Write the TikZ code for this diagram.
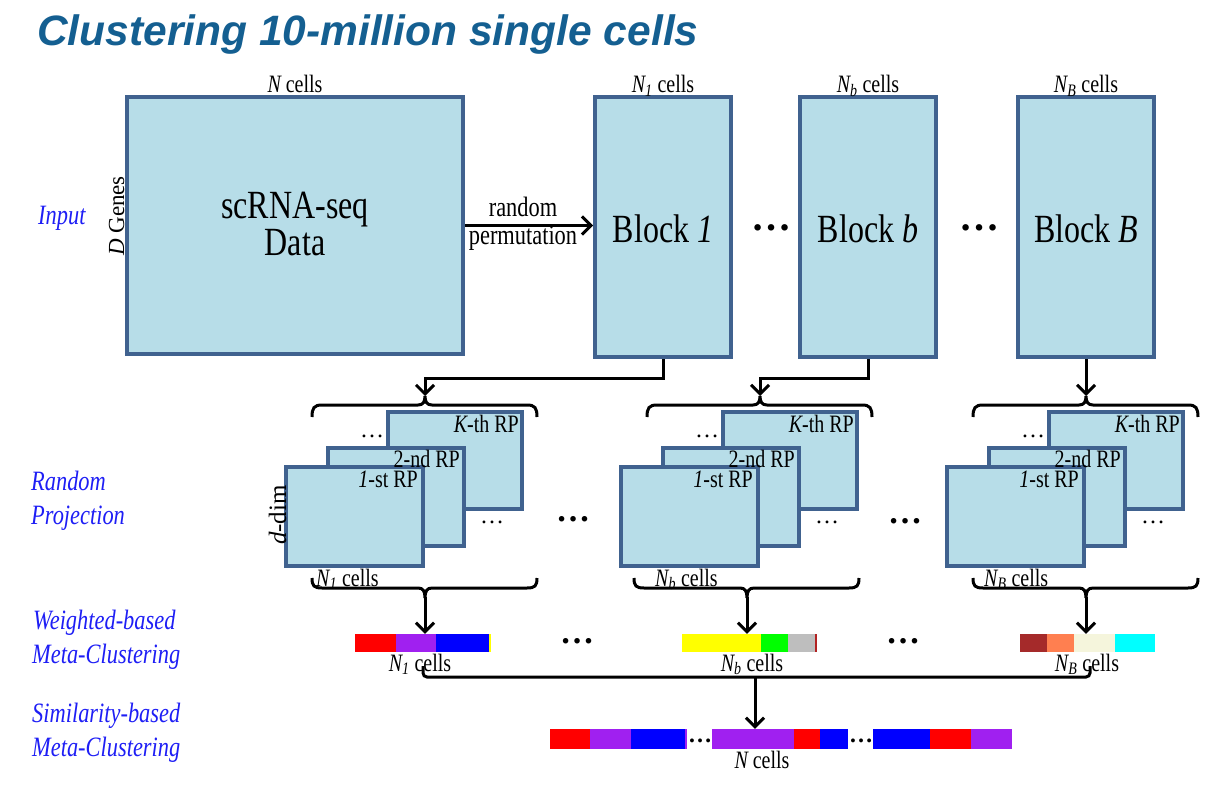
\documentclass[tikz,border=0pt]{standalone}
\usepackage{fontspec}
\setmainfont{Liberation Serif}
\newfontfamily\cond{Liberation Serif}[FakeStretch=0.8]
\newfontfamily\plainserif{Liberation Serif}
\newfontfamily\titlefont{Liberation Sans}
\usetikzlibrary{arrows.meta}
\definecolor{boxfill}{RGB}{183,221,232}
\definecolor{boxline}{RGB}{64,98,143}
\definecolor{lblblue}{RGB}{30,30,245}
\definecolor{titleblue}{RGB}{20,95,145}
\definecolor{cpurple}{RGB}{160,32,240}
\definecolor{cgray}{RGB}{190,190,190}
\definecolor{cfire}{RGB}{178,34,34}
\definecolor{cbrown}{RGB}{165,42,42}
\definecolor{ccoral}{RGB}{255,127,80}
\definecolor{cbeige}{RGB}{245,245,220}
\definecolor{ccyan}{RGB}{0,255,255}
\definecolor{cred}{RGB}{255,0,0}
\definecolor{cblue}{RGB}{0,0,255}
\definecolor{cyellow}{RGB}{255,255,0}
\definecolor{cgreen}{RGB}{0,255,0}
\newcommand\fs[1]{\fontsize{#1}{#1}\selectfont}
\begin{document}
\begin{tikzpicture}[x=1pt,y=-1pt,
  box/.style={draw=boxline,fill=boxfill,line width=4pt,inner sep=0pt,rectangle},
  txt/.style={inner sep=0pt,anchor=base,font=\cond\fs{25}},
  bigtxt/.style={inner sep=0pt,anchor=base,font=\cond\fs{40}},
  sidelbl/.style={inner sep=0pt,anchor=base west,font=\cond\itshape\fs{28},text=lblblue},
  conn/.style={line width=3pt,-{Straight Barb[length=9pt,width=18pt,line width=3pt]}},
  brc/.style={line width=3pt},
  bar/.style={inner sep=0pt,minimum height=18pt,rectangle},
  dotsbig/.style={inner sep=0pt,font=\plainserif\bfseries\fs{40}},
  dotsmid/.style={inner sep=0pt,font=\plainserif\bfseries\fs{34}},
  dotssmall/.style={inner sep=0pt,font=\plainserif\fs{24}}]
\useasboundingbox (0,0) rectangle (1213,786);
% title
\node[anchor=base west,inner sep=0pt,font=\titlefont\bfseries\itshape\fs{42.5},text=titleblue] (title) at (37,46) {Clustering 10-million single cells};
% side labels
\node[sidelbl] (lin) at (38,225) {Input};
\node[sidelbl] (lrp1) at (31,490) {Random};
\node[sidelbl] (lrp2) at (31,524) {Projection};
\node[sidelbl] (lw1) at (33,629) {Weighted-based};
\node[sidelbl] (lw2) at (32,663) {Meta-Clustering};
\node[sidelbl] (ls1) at (32,722) {Similarity-based};
\node[sidelbl] (ls2) at (32,756) {Meta-Clustering};
% data box
\node[box,minimum width=336pt,minimum height=257pt] (data) at (295,225.5) {};
\node[txt] (ncells) at (295,93) {\itshape N\upshape\ cells};
\node[bigtxt] (dt1) at (295,219) {scRNA-seq};
\node[bigtxt] (dt2) at (295,256) {Data};
\node[inner sep=0pt,anchor=base,rotate=90,font=\plainserif\fs{23}] (dgenes) at (124,216) {\itshape D\upshape\ Genes};
% blocks
\node[box,minimum width=136pt,minimum height=260pt] (blk1) at (663,227) {};
\node[box,minimum width=136pt,minimum height=260pt] (blkb) at (868,227) {};
\node[box,minimum width=136pt,minimum height=260pt] (blkB) at (1086,227) {};
\node[bigtxt] (bt1t) at (663,243) {Block \itshape 1};
\node[bigtxt] (btbt) at (868,243) {Block \itshape b};
\node[bigtxt] (btBt) at (1086,243) {Block \itshape B};
\node[txt] (nc1) at (663,93) {\itshape N\textsubscript{1}\upshape\ cells};
\node[txt] (ncb) at (868,93) {\itshape N\textsubscript{b}\upshape\ cells};
\node[txt] (ncB) at (1086,93) {\itshape N\textsubscript{B}\upshape\ cells};
\node[dotsbig] (d1) at (771,228) {…};
\node[dotsbig] (d2) at (979,228) {…};
% permutation arrow
\draw[conn] (data.east) -- (data.east -| blk1.west);
\node[inner sep=0pt,anchor=base,font=\cond\fs{28}] (rnd) at (523,217) {random};
\node[inner sep=0pt,anchor=base,font=\cond\fs{28}] (perm) at (523,245) {permutation};
% stacks
\foreach \n/\dx/\bdx/\lx in {1/0/0/316, b/335/-13/655, B/661/0/984}{
  \node[box,minimum width=134pt,minimum height=97pt] (k\n) at (455+\dx,460.5) {};
  \node[box,minimum width=136pt,minimum height=98pt] (s\n) at (396+\dx,497) {};
  \node[box,minimum width=137pt,minimum height=99pt] (f\n) at (354.5+\dx,516.5) {};
  \node[txt,anchor=base east] (kl\n) at (519+\dx,432) {\itshape K\upshape-th RP};
  \node[txt,anchor=base east] (sl\n) at (460+\dx,467) {2-nd RP};
  \node[txt,anchor=base east] (fl\n) at (418+\dx,487) {\itshape 1\upshape-st RP};
  \node[dotssmall] (ua\n) at (372+\dx,436) {…};
  \node[dotssmall] (ub\n) at (492+\dx,522) {…};
  \node[txt,anchor=base west] (sc\n) at (\lx,586) {\itshape N\textsubscript{\n}\upshape\ cells};
  % top brace
  \draw[brc] (312+\dx,417) .. controls (312+\dx,408) and (314+\dx,405) .. (322+\dx,405)
     -- (418+\dx,405) .. controls (423+\dx,405) and (425+\dx,402) .. (425+\dx,396)
     .. controls (425+\dx,402) and (427+\dx,405) .. (432+\dx,405)
     -- (527+\dx,405) .. controls (535+\dx,405) and (537+\dx,408) .. (537+\dx,417);
  \coordinate (bt\n) at (425+\dx,396);
  % bottom brace
  \draw[brc] (312+\dx+\bdx,578) .. controls (312+\dx+\bdx,586) and (314+\dx+\bdx,588) .. (322+\dx+\bdx,588)
     -- (418+\dx+\bdx,588) .. controls (423+\dx+\bdx,588) and (425+\dx+\bdx,591) .. (425+\dx+\bdx,598)
     .. controls (425+\dx+\bdx,591) and (427+\dx+\bdx,588) .. (432+\dx+\bdx,588)
     -- (527+\dx+\bdx,588) .. controls (535+\dx+\bdx,588) and (537+\dx+\bdx,586) .. (537+\dx+\bdx,578);
  \coordinate (bb\n) at (425+\dx+\bdx,597);
}
\node[inner sep=0pt,anchor=base,rotate=90,font=\plainserif\fs{25}] (ddim) at (286,515) {\itshape d\upshape-dim};
\node[dotsmid] (sd1) at (573,519) {…};
\node[dotsmid] (sd2) at (905,521) {…};
% connectors block -> brace
\coordinate (j1) at (425,378);
\coordinate (jb) at (760,378);
\draw[conn] (blk1.south) |- (j1) -- (bt1);
\draw[conn] (blkb.south) |- (jb) -- (btb);
\draw[conn] (blkB.south) -- (blkB.south |- btB);
% bars
\node[bar,minimum width=135pt] (bar1) at (422.5,643) {};
\fill[cred] (355,634) rectangle (396,652);
\fill[cpurple] (396,634) rectangle (436,652);
\fill[cblue] (436,634) rectangle (489,652);
\fill[cyellow] (489,634) rectangle (491,652);
\node[bar,minimum width=135pt] (barb) at (749.5,643) {};
\fill[cyellow] (682,634) rectangle (761,652);
\fill[cgreen] (761,634) rectangle (788,652);
\fill[cgray] (788,634) rectangle (815,652);
\fill[cfire] (815,634) rectangle (817,652);
\node[bar,minimum width=135pt] (barB) at (1087.5,643) {};
\fill[cbrown] (1020,634) rectangle (1047,652);
\fill[ccoral] (1047,634) rectangle (1074,652);
\fill[cbeige] (1074,634) rectangle (1115,652);
\fill[ccyan] (1115,634) rectangle (1155,652);
\foreach \n in {1,b,B}{\draw[conn] (bb\n) -- (bb\n |- bar\n.north);}
\node[dotsmid] (bd1) at (577,641) {…};
\node[dotsmid] (bd2) at (903,641) {…};
\node[txt] (bl1) at (420,671) {\itshape N\textsubscript{1}\upshape\ cells};
\node[txt] (blb) at (752,671) {\itshape N\textsubscript{b}\upshape\ cells};
\node[txt] (blB) at (1087,671) {\itshape N\textsubscript{B}\upshape\ cells};
% merge
\coordinate (m1) at (423,666);
\coordinate (mB) at (1090,666);
\coordinate (mj) at (755,677);
\draw[line width=3pt,rounded corners=4pt] (m1) |- (mj) -| (mB);
% final bar
\node[bar,minimum width=462pt,minimum height=20pt] (barN) at (781,739) {};
\draw[conn] (mj) -- (mj |- barN.north);
\fill[cred] (550,729) rectangle (590,749);
\fill[cpurple] (590,729) rectangle (631,749);
\fill[cblue] (631,729) rectangle (685,749);
\fill[cpurple] (685,729) rectangle (687,749);
\fill[cpurple] (712,729) rectangle (794,749);
\fill[cred] (794,729) rectangle (820,749);
\fill[cblue] (820,729) rectangle (848,749);
\fill[cblue] (873,729) rectangle (930,749);
\fill[cred] (930,729) rectangle (971,749);
\fill[cpurple] (971,729) rectangle (1012,749);
\node[dotssmall,font=\plainserif\bfseries\fs{24}] (nd1) at (700,741) {…};
\node[dotssmall,font=\plainserif\bfseries\fs{24}] (nd2) at (861,741) {…};
\node[txt] (nN) at (762,768) {\itshape N\upshape\ cells};
\end{tikzpicture}
\end{document}
